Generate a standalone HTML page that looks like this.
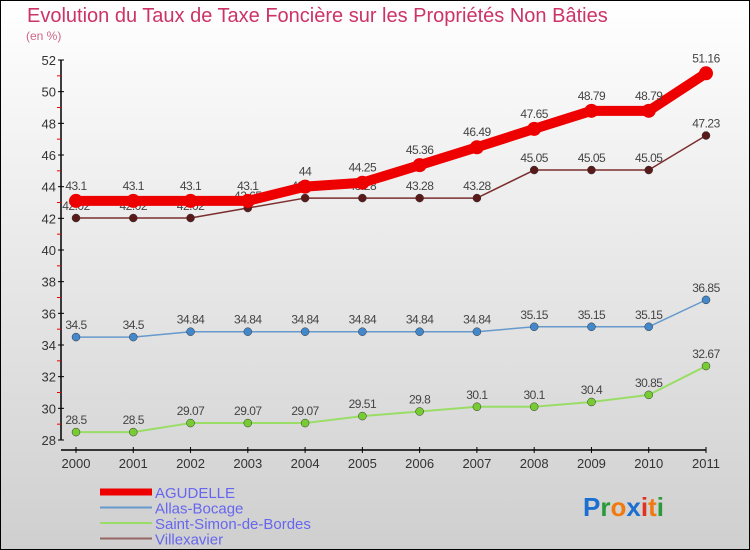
<!DOCTYPE html>
<html><head><meta charset="utf-8"><style>
body{margin:0}
svg{display:block;font-family:"Liberation Sans",sans-serif}
</style></head><body>
<svg width="750" height="550" viewBox="0 0 750 550">
<defs>
<linearGradient id="bg" x1="0" y1="0" x2="0" y2="1">
<stop offset="0" stop-color="#ffffff"/><stop offset="1" stop-color="#cfcfcf"/>
</linearGradient>
</defs>
<rect x="0.5" y="0.5" width="749" height="549" fill="url(#bg)" stroke="#000"/>
<text x="27" y="22" font-size="20" fill="#cc3366">Evolution du Taux de Taxe Foncière sur les Propriétés Non Bâties</text>
<text x="26" y="40" font-size="12" fill="#cc6688">(en %)</text>
<g id="axes"></g>
<g id="series"></g>
<g id="legend"></g>
<text x="583" y="516" font-size="26" font-weight="bold"><tspan fill="#1a6fd0">P</tspan><tspan fill="#2a9a3a">r</tspan><tspan fill="#f07a10">o</tspan><tspan fill="#1a6fd0">x</tspan><tspan fill="#e03020">i</tspan><tspan fill="#f07a10">t</tspan><tspan fill="#2a9a3a">i</tspan></text>
</svg>
<script>
const years=[2000,2001,2002,2003,2004,2005,2006,2007,2008,2009,2010,2011];
const agudelle=[43.1,43.1,43.1,43.1,44,44.25,45.36,46.49,47.65,48.79,48.79,51.16];
const allas=[34.5,34.5,34.84,34.84,34.84,34.84,34.84,34.84,35.15,35.15,35.15,36.85];
const saintSimon=[28.5,28.5,29.07,29.07,29.07,29.51,29.8,30.1,30.1,30.4,30.85,32.67];
const villexavier=[42.02,42.02,42.02,42.65,43.28,43.28,43.28,43.28,45.05,45.05,45.05,47.23];
const yTicks=[28,30,32,34,36,38,40,42,44,46,48,50,52];
const NS="http://www.w3.org/2000/svg";
const yMin=28,yMax=52,yTop=60,yBot=440;
function y(v){return yBot-(v-yMin)/(yMax-yMin)*(yBot-yTop);}
function x(i){return 76+i*(706-76)/(years.length-1);}
function mk(tag,attrs,parent){const e=document.createElementNS(NS,tag);for(const k in attrs)e.setAttribute(k,attrs[k]);parent.appendChild(e);return e;}
const axes=document.getElementById('axes');
let e=mk('line',{x1:61,y1:yTop,x2:61,y2:yBot,stroke:'#000','stroke-width':1.5},axes);


e=mk('line',{x1:61,y1:450,x2:706,y2:450,stroke:'#000','stroke-width':1.5},axes);


yTicks.forEach(t=>{
  mk('line',{x1:58,y1:y(t),x2:64,y2:y(t),stroke:'#000'},axes);
  if(t<yMax){mk('line',{x1:57,y1:y(t+1),x2:61,y2:y(t+1),stroke:'#e00'},axes);}
  const tx=mk('text',{x:56,y:y(t)+5,'font-size':13,fill:'#333','text-anchor':'end'},axes);
  tx.textContent=t;
  
  
});
years.forEach((yr,i)=>{
  mk('line',{x1:x(i),y1:447,x2:x(i),y2:453,stroke:'#000'},axes);
  const tx=mk('text',{x:x(i),y:468,'font-size':13,fill:'#333','text-anchor':'middle'},axes);
  tx.textContent=yr;
  
  
});
const series=[
 {name:'villexavier',vals:villexavier,line:'#7a2e2e',w:1.5,dot:'#5a1a1a',r:4},
 {name:'saint-simon',vals:saintSimon,line:'#99dd66',w:2,dot:'#77cc33',r:4},
 {name:'allas',vals:allas,line:'#6699cc',w:1.5,dot:'#4488cc',r:4},
 {name:'agudelle',vals:agudelle,line:'#ee0000',w:10,dot:'#ee0000',r:7}
];
const sg=document.getElementById('series');
series.forEach(s=>{
  const g=mk('g',{},sg);
  
  
  const p=mk('polyline',{points:s.vals.map((v,i)=>x(i)+','+y(v)).join(' '),fill:'none',stroke:s.line,'stroke-width':s.w,'stroke-linejoin':'round'},g);
  
  
  s.vals.forEach((v,i)=>{
    const c=mk('circle',{cx:x(i),cy:y(v),r:s.r,fill:s.dot,stroke:s.r>5?'none':'#333','stroke-width':0.5},g);
    
    
    const t=mk('text',{x:x(i),y:y(v)-(s.r>5?11:8),'font-size':12,fill:'#444','text-anchor':'middle','letter-spacing':'-0.5'},g);
    t.textContent=String(v);
    
    
  });
});
const leg=[['AGUDELLE','#ee0000',7],['Allas-Bocage','#6699cc',2],['Saint-Simon-de-Bordes','#99dd66',2],['Villexavier','#996666',2]];
const lg=document.getElementById('legend');
leg.forEach((l,i)=>{
  const yy=492+i*15.5;
  const ln=mk('line',{x1:100,y1:yy,x2:152,y2:yy,stroke:l[1],'stroke-width':l[2]},lg);
  
  
  const t=mk('text',{x:155,y:yy+6,'font-size':15,fill:'#6666ee'},lg);
  t.textContent=l[0];
  
  
});
</script>
</body></html>
